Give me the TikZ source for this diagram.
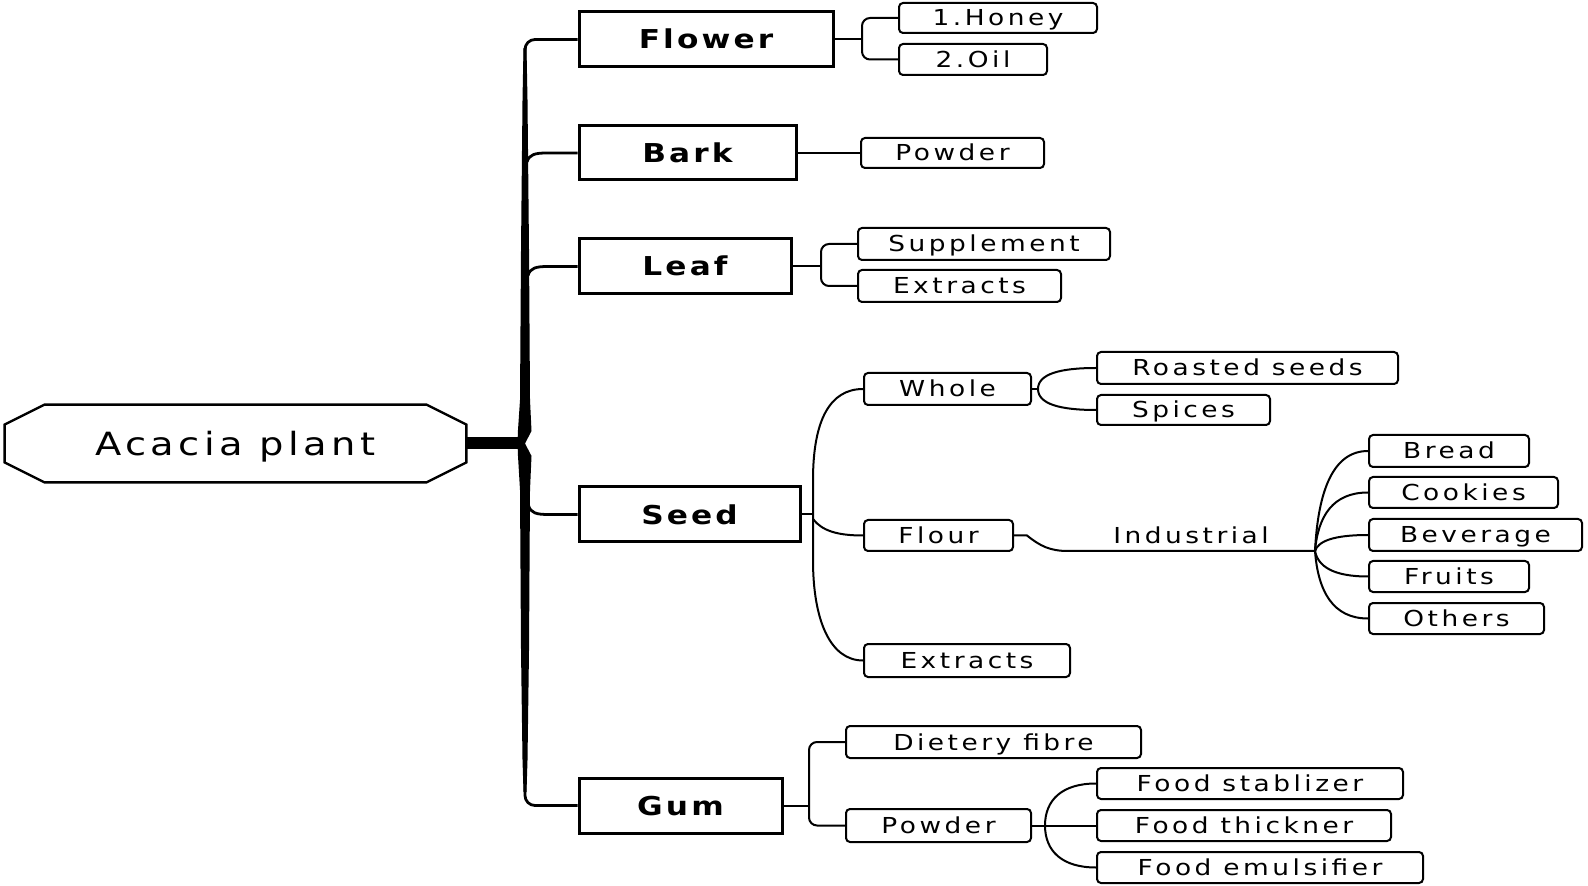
\documentclass[tikz,border=0pt]{standalone}
\usepackage{fontspec}
\setmainfont{DejaVu Sans}
\newfontfamily\leaffont[FakeStretch=1.2,LetterSpace=16]{DejaVu Sans}
\newfontfamily\boxfont[FakeStretch=1.2,LetterSpace=12]{DejaVu Sans}
\newfontfamily\rootfont[FakeStretch=1.2,LetterSpace=14]{DejaVu Sans}
\begin{document}
\begin{tikzpicture}[x=0.5pt,y=-0.5pt,
  mainbox/.style={draw, line width=1.5pt, minimum height=27.5pt, inner sep=0pt,
    text height=9.5pt, text depth=0pt, font=\boxfont\bfseries\fontsize{13}{15}\selectfont},
  leafbox/.style={draw, line width=1pt, rounded corners=2pt, minimum height=15.5pt, inner sep=0pt,
    text height=8pt, text depth=0pt, font=\leaffont\fontsize{11}{13}\selectfont},
  plainlabel/.style={inner sep=0pt, text height=8pt, text depth=0pt, font=\leaffont\fontsize{11}{13}\selectfont},
  rootlabel/.style={inner sep=0pt, minimum width=230.5pt, minimum height=38.5pt,
    text height=11.7pt, text depth=0pt, font=\rootfont\fontsize{16}{19}\selectfont},
  conn/.style={line width=1pt},
  mainconn/.style={line width=1.4pt},
  rootline/.style={line width=1.2pt, line join=miter}]
\useasboundingbox (0,0) rectangle (1588,886);

% root
\node[rootlabel] (root) at (235.5,443.5) {Acacia plant};
\draw[rootline] ([xshift=20pt]root.north west) -- ([xshift=-20pt]root.north east)
  -- ([yshift=-10pt]root.north east) -- ([yshift=10pt]root.south east)
  -- ([xshift=-20pt]root.south east) -- ([xshift=20pt]root.south west)
  -- ([yshift=10pt]root.south west) -- ([yshift=-10pt]root.north west) -- cycle;

% main boxes
\node[mainbox, minimum width=127pt] (flower) at (706,39.5) {Flower};
\node[mainbox, minimum width=108.5pt, minimum height=27pt] (bark) at (687.5,153) {Bark};
\node[mainbox, minimum width=106pt] (leaf) at (685,266.5) {Leaf};
\node[mainbox, minimum width=110.5pt] (seed) at (689.5,514.5) {Seed};
\node[mainbox, minimum width=101.5pt] (gum) at (680.5,805.5) {Gum};

% leaf boxes
\node[leafbox, minimum width=99pt, minimum height=15pt] (honey) at (998,18) {1.Honey};
\node[leafbox, minimum width=74pt] (oil) at (973,59.5) {2.Oil};
\node[leafbox, minimum width=91.5pt, minimum height=15pt] (bpowder) at (952.5,153) {Powder};
\node[leafbox, minimum width=126pt, minimum height=16pt] (supp) at (984,244) {Supplement};
\node[leafbox, minimum width=101.5pt, minimum height=16pt] (lextr) at (959.5,286) {Extracts};
\node[leafbox, minimum width=83.5pt, minimum height=16pt] (whole) at (947.5,389) {Whole};
\node[leafbox, minimum width=150.5pt, minimum height=16pt] (roasted) at (1247.5,368) {Roasted seeds};
\node[leafbox, minimum width=86.5pt, minimum height=15pt] (spices) at (1183.5,410) {Spices};
\node[leafbox, minimum width=74.5pt] (flour) at (938.5,535.5) {Flour};
\node[leafbox, minimum width=80pt, minimum height=16pt] (bread) at (1449,451) {Bread};
\node[leafbox, minimum width=94.5pt] (cookies) at (1463.5,492.5) {Cookies};
\node[leafbox, minimum width=106.5pt, minimum height=16pt] (beverage) at (1475.5,535) {Beverage};
\node[leafbox, minimum width=80pt] (fruits) at (1449,576.5) {Fruits};
\node[leafbox, minimum width=87.5pt] (others) at (1456.5,618.5) {Others};
\node[leafbox, minimum width=103pt, minimum height=16.5pt] (sextr) at (967,660.5) {Extracts};
\node[leafbox, minimum width=147.5pt, minimum height=16pt] (fibre) at (993.5,742) {Dietery fibre};
\node[leafbox, minimum width=92.5pt, minimum height=16.5pt] (gpowder) at (938.5,825.5) {Powder};
\node[leafbox, minimum width=153pt] (fs) at (1250,783.5) {Food stablizer};
\node[leafbox, minimum width=147pt] (ft) at (1244,825.5) {Food thickner};
\node[leafbox, minimum width=163pt] (fe) at (1260,867.5) {Food emulsifier};
\node[plainlabel] (ind) at (1191,536) {Industrial};

% trunk
\coordinate (junction) at (521,443.5);
\fill (523.5,48) -- (522.5,100) -- (521,250) -- (520,400) -- (518,430) -- (517.5,443)
  -- (518,456) -- (520,490) -- (521,650) -- (522.5,760) -- (523.5,792)
  -- (526.5,792) -- (527.5,760) -- (529,650) -- (530,490) -- (531.5,456)
  -- (525,443.5) -- (531.5,431) -- (530,400) -- (529,250) -- (527.5,100) -- (526.5,48) -- cycle;
\draw[line width=6pt] (root.east) -- (junction);

% main branches
\draw[mainconn, rounded corners=5pt] (525,80) -- (525,39.5) -- (flower.west);
\draw[mainconn] (527,162) .. controls (529,154.5) and (535,153) .. (547,153) -- (bark.west);
\draw[mainconn] (528,275.5) .. controls (530,268) and (536,266.5) .. (548,266.5) -- (leaf.west);
\draw[mainconn] (528.5,505.5) .. controls (530.5,513) and (536.5,514.5) .. (548.5,514.5) -- (seed.west);
\draw[mainconn, rounded corners=5pt] (525,760) -- (525,805.5) -- (gum.west);

% flower
\draw[conn] (flower.east) -- (862,39.5);
\draw[conn, rounded corners=4pt] (honey.west) -- (862,18) -- (862,59.5) -- (oil.west);
% bark
\draw[conn] (bark.east) -- (bpowder.west);
% leaf
\draw[conn] (leaf.east) -- (821,266.5);
\draw[conn, rounded corners=4pt] (supp.west) -- (821,244) -- (821,286) -- (lextr.west);
% seed
\draw[conn] (seed.east) -- (813,514.5);
\draw[conn] (whole.west) .. controls (830,389) and (813,420) .. (813,480) -- (813,560)
  .. controls (813,620) and (830,660.5) .. (sextr.west);
\draw[conn] (813,519) .. controls (822,531) and (838,535.5) .. (flour.west);
\draw[conn] (whole.east) -- (1038,389);
\draw[conn] (roasted.west) .. controls (1060,368) and (1038,374) .. (1038,389)
  .. controls (1038,404) and (1060,410) .. (spices.west);
\coordinate (hub) at (1315,551);
\draw[conn] (flour.east) -- (1027,535.5) .. controls (1040,546) and (1050,551) .. (1068,551) -- (hub);
\foreach \n/\yy in {bread/451, cookies/492.5, beverage/535, fruits/576.5, others/618.5}
  \draw[conn] (hub) .. controls ({1318},{551+0.6*(\yy-551)}) and (1333,\yy) .. (\n.west);
% gum
\draw[conn] (gum.east) -- (809,805.5);
\draw[conn, rounded corners=4pt] (fibre.west) -- (809,742) -- (809,825.5) -- (gpowder.west);
\draw[conn] (gpowder.east) -- (ft.west);
\draw[conn] (fs.west) .. controls (1062,783.5) and (1045,800) .. (1045,825.5)
  .. controls (1045,851) and (1062,867.5) .. (fe.west);
\end{tikzpicture}
\end{document}
